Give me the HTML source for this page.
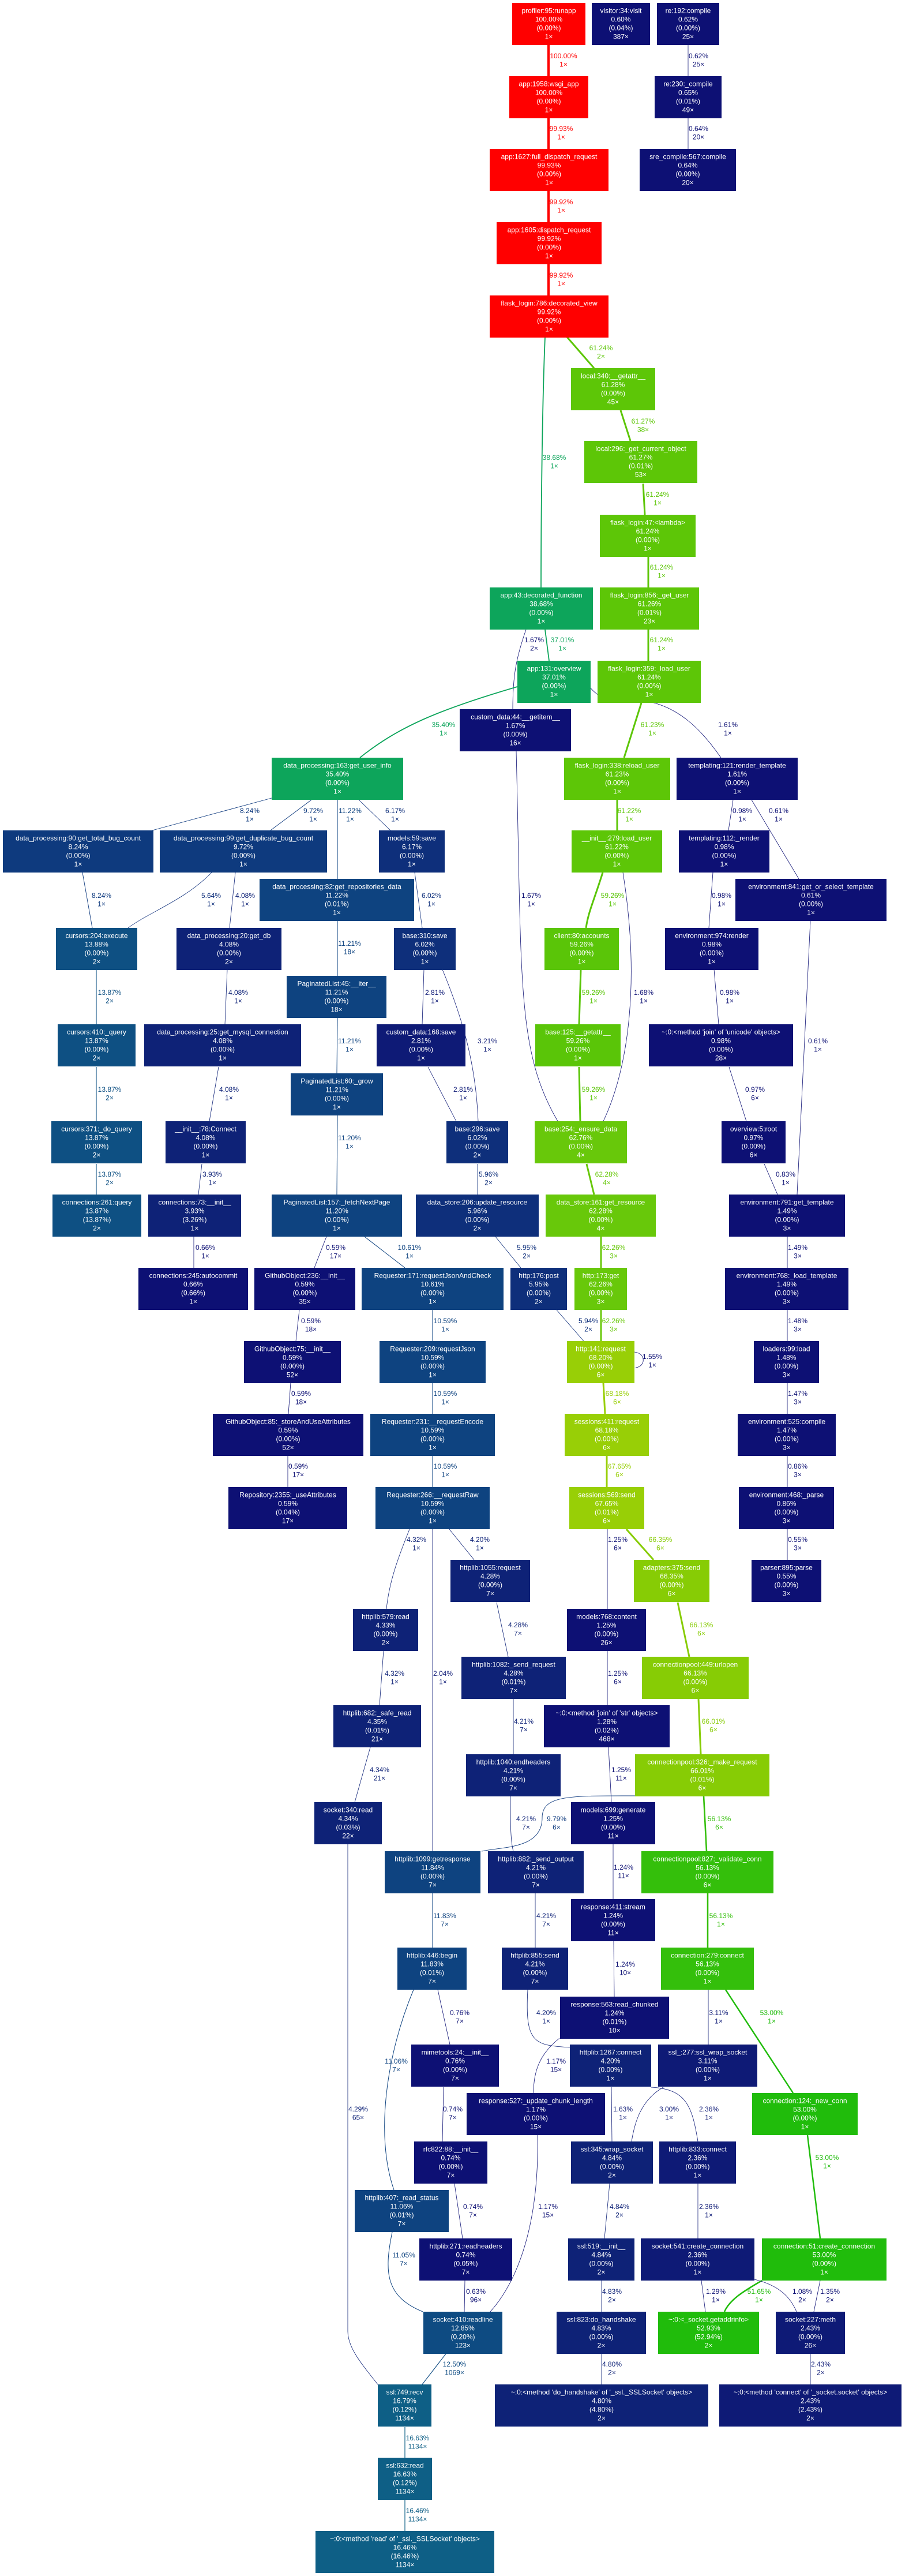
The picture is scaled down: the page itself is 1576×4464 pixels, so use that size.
<!DOCTYPE html>
<html><head><meta charset="utf-8">
<style>
html,body{margin:0;padding:0;background:#fff}
svg{display:block}
text{font-family:"Liberation Sans",Arial,sans-serif;font-size:12px}
.n text{fill:#fff;text-anchor:middle}
.l{text-anchor:middle}
path{fill:none}
</style></head><body>
<svg width="1576" height="4464" viewBox="0 0 1576 4464" xmlns="http://www.w3.org/2000/svg">
<defs>
<marker id="R" markerUnits="userSpaceOnUse" markerWidth="12" markerHeight="10" refX="12" refY="5" orient="auto"><path d="M0,0L12,5L0,10z" fill="#ff0000"/></marker>
<marker id="G61" markerUnits="userSpaceOnUse" markerWidth="11" markerHeight="9" refX="11" refY="4.5" orient="auto"><path d="M0,0L11,4.5L0,9z" fill="#5dc607"/></marker>
<marker id="G59" markerUnits="userSpaceOnUse" markerWidth="11" markerHeight="9" refX="11" refY="4.5" orient="auto"><path d="M0,0L11,4.5L0,9z" fill="#5ac508"/></marker>
<marker id="G62" markerUnits="userSpaceOnUse" markerWidth="11" markerHeight="9" refX="11" refY="4.5" orient="auto"><path d="M0,0L11,4.5L0,9z" fill="#68c80a"/></marker>
<marker id="Y66" markerUnits="userSpaceOnUse" markerWidth="11" markerHeight="9" refX="11" refY="4.5" orient="auto"><path d="M0,0L11,4.5L0,9z" fill="#87cc05"/></marker>
<marker id="Y68" markerUnits="userSpaceOnUse" markerWidth="11" markerHeight="9" refX="11" refY="4.5" orient="auto"><path d="M0,0L11,4.5L0,9z" fill="#98cf06"/></marker>
<marker id="G56" markerUnits="userSpaceOnUse" markerWidth="11" markerHeight="9" refX="11" refY="4.5" orient="auto"><path d="M0,0L11,4.5L0,9z" fill="#34bf0b"/></marker>
<marker id="G53" markerUnits="userSpaceOnUse" markerWidth="11" markerHeight="9" refX="11" refY="4.5" orient="auto"><path d="M0,0L11,4.5L0,9z" fill="#20bc0b"/></marker>
<marker id="T" markerUnits="userSpaceOnUse" markerWidth="10" markerHeight="8" refX="10" refY="4" orient="auto"><path d="M0,0L10,4L0,8z" fill="#0da55b"/></marker>
<marker id="B16" markerUnits="userSpaceOnUse" markerWidth="8" markerHeight="6" refX="8" refY="3" orient="auto"><path d="M0,0L8,3L0,6z" fill="#0e5f86"/></marker>
<marker id="B13" markerUnits="userSpaceOnUse" markerWidth="8" markerHeight="6" refX="8" refY="3" orient="auto"><path d="M0,0L8,3L0,6z" fill="#0e5083"/></marker>
<marker id="B12" markerUnits="userSpaceOnUse" markerWidth="8" markerHeight="6" refX="8" refY="3" orient="auto"><path d="M0,0L8,3L0,6z" fill="#0e4b82"/></marker>
<marker id="B11" markerUnits="userSpaceOnUse" markerWidth="8" markerHeight="6" refX="8" refY="3" orient="auto"><path d="M0,0L8,3L0,6z" fill="#0e4380"/></marker>
<marker id="B9" markerUnits="userSpaceOnUse" markerWidth="8" markerHeight="6" refX="8" refY="3" orient="auto"><path d="M0,0L8,3L0,6z" fill="#0e3a7e"/></marker>
<marker id="B6" markerUnits="userSpaceOnUse" markerWidth="8" markerHeight="6" refX="8" refY="3" orient="auto"><path d="M0,0L8,3L0,6z" fill="#0e2f7b"/></marker>
<marker id="B4" markerUnits="userSpaceOnUse" markerWidth="8" markerHeight="6" refX="8" refY="3" orient="auto"><path d="M0,0L8,3L0,6z" fill="#0e2277"/></marker>
<marker id="B2" markerUnits="userSpaceOnUse" markerWidth="8" markerHeight="6" refX="8" refY="3" orient="auto"><path d="M0,0L8,3L0,6z" fill="#0e1a76"/></marker>
<marker id="B1" markerUnits="userSpaceOnUse" markerWidth="8" markerHeight="6" refX="8" refY="3" orient="auto"><path d="M0,0L8,3L0,6z" fill="#0d1074"/></marker>
</defs>

<!-- EDGES -->
<g>
<path d="M951,77L951,132" stroke="#ff0000" stroke-width="4" marker-end="url(#R)"/>
<path d="M1193,77L1193,132" stroke="#0d1074" stroke-width="0.8" marker-end="url(#B1)"/>
<path d="M951,205L951,258" stroke="#ff0000" stroke-width="4" marker-end="url(#R)"/>
<path d="M1193,205L1193,258" stroke="#0d1074" stroke-width="0.8" marker-end="url(#B1)"/>
<path d="M951,331L951,385" stroke="#ff0000" stroke-width="4" marker-end="url(#R)"/>
<path d="M951,458L951,512" stroke="#ff0000" stroke-width="4" marker-end="url(#R)"/>
<path d="M983,584L1030,638" stroke="#5dc607" stroke-width="3" marker-end="url(#G61)"/>
<path d="M945,584C940,700 938,900 938,1018" stroke="#0da55b" stroke-width="1.8" marker-end="url(#T)"/>
<path d="M1076,711L1093,764" stroke="#5dc607" stroke-width="3" marker-end="url(#G61)"/>
<path d="M1115,838L1118,892" stroke="#5dc607" stroke-width="3" marker-end="url(#G61)"/>
<path d="M1124,964L1124,1018" stroke="#5dc607" stroke-width="3" marker-end="url(#G61)"/>
<path d="M945,1091L952,1145" stroke="#0da55b" stroke-width="1.8" marker-end="url(#T)"/>
<path d="M912,1091C895,1140 889,1170 889,1229" stroke="#0d1074" stroke-width="0.8" marker-end="url(#B1)"/>
<path d="M1124,1091L1124,1145" stroke="#5dc607" stroke-width="3" marker-end="url(#G61)"/>
<path d="M897,1190C760,1230 690,1260 624,1313" stroke="#0da55b" stroke-width="1.8" marker-end="url(#T)"/>
<path d="M1022,1190C1050,1225 1080,1210 1120,1215C1180,1225 1220,1270 1250,1313" stroke="#0d1074" stroke-width="0.8" marker-end="url(#B1)"/>
<path d="M1112,1218L1082,1313" stroke="#5dc607" stroke-width="3" marker-end="url(#G61)"/>
<path d="M895,1302C905,1700 895,1820 967,1943" stroke="#0d1074" stroke-width="0.8" marker-end="url(#B1)"/>
<path d="M471,1383L264,1439" stroke="#0e3a7e" stroke-width="0.9" marker-end="url(#B9)"/>
<path d="M540,1386L469,1439" stroke="#0e3a7e" stroke-width="0.9" marker-end="url(#B9)"/>
<path d="M585,1386L585,1523" stroke="#0e4380" stroke-width="1" marker-end="url(#B11)"/>
<path d="M622,1386L677,1439" stroke="#0e2f7b" stroke-width="0.8" marker-end="url(#B6)"/>
<path d="M1070,1386L1070,1439" stroke="#5dc607" stroke-width="3" marker-end="url(#G61)"/>
<path d="M1271,1386L1263,1439" stroke="#0d1074" stroke-width="0.8" marker-end="url(#B1)"/>
<path d="M1303,1386L1385,1523" stroke="#0d1074" stroke-width="0.8" marker-end="url(#B1)"/>
<path d="M143,1512L160,1608" stroke="#0e3a7e" stroke-width="0.9" marker-end="url(#B9)"/>
<path d="M367,1512C320,1560 260,1580 222,1608" stroke="#0e2f7b" stroke-width="0.8" marker-end="url(#B6)"/>
<path d="M408,1512L398,1608" stroke="#0e2277" stroke-width="0.8" marker-end="url(#B4)"/>
<path d="M719,1512L732,1608" stroke="#0e2f7b" stroke-width="0.8" marker-end="url(#B6)"/>
<path d="M1045,1512C1030,1560 1020,1580 1016,1608" stroke="#5ac508" stroke-width="3" marker-end="url(#G59)"/>
<path d="M1080,1512C1110,1700 1090,1850 1046,1943" stroke="#0d1074" stroke-width="0.8" marker-end="url(#B1)"/>
<path d="M1236,1512L1229,1608" stroke="#0d1074" stroke-width="0.8" marker-end="url(#B1)"/>
<path d="M1405,1596L1382,2070" stroke="#0d1074" stroke-width="0.8" marker-end="url(#B1)"/>
<path d="M585,1596L585,1691" stroke="#0e4380" stroke-width="1" marker-end="url(#B11)"/>
<path d="M167,1680L167,1775" stroke="#0e5083" stroke-width="1.1" marker-end="url(#B13)"/>
<path d="M394,1680L390,1775" stroke="#0e2277" stroke-width="0.8" marker-end="url(#B4)"/>
<path d="M735,1680L732,1775" stroke="#0e1a76" stroke-width="0.8" marker-end="url(#B2)"/>
<path d="M767,1680C800,1760 825,1840 829,1943" stroke="#0e1a76" stroke-width="0.8" marker-end="url(#B2)"/>
<path d="M1007,1680L1004,1775" stroke="#5ac508" stroke-width="3" marker-end="url(#G59)"/>
<path d="M1238,1680L1246,1775" stroke="#0d1074" stroke-width="0.8" marker-end="url(#B1)"/>
<path d="M585,1764L584,1860" stroke="#0e4380" stroke-width="1" marker-end="url(#B11)"/>
<path d="M167,1849L167,1943" stroke="#0e5083" stroke-width="1.1" marker-end="url(#B13)"/>
<path d="M379,1849L363,1943" stroke="#0e2277" stroke-width="0.8" marker-end="url(#B4)"/>
<path d="M742,1849L791,1943" stroke="#0e1a76" stroke-width="0.8" marker-end="url(#B2)"/>
<path d="M1004,1849L1006,1943" stroke="#5ac508" stroke-width="3" marker-end="url(#G59)"/>
<path d="M1264,1849L1294,1943" stroke="#0d1074" stroke-width="0.8" marker-end="url(#B1)"/>
<path d="M585,1932L584,2070" stroke="#0e4380" stroke-width="1" marker-end="url(#B11)"/>
<path d="M167,2017L167,2070" stroke="#0e5083" stroke-width="1.1" marker-end="url(#B13)"/>
<path d="M350,2017L344,2070" stroke="#0e2277" stroke-width="0.8" marker-end="url(#B4)"/>
<path d="M828,2017L828,2070" stroke="#0e2f7b" stroke-width="0.8" marker-end="url(#B6)"/>
<path d="M1017,2017L1030,2070" stroke="#68c80a" stroke-width="3" marker-end="url(#G62)"/>
<path d="M1325,2017L1348,2070" stroke="#0d1074" stroke-width="0.8" marker-end="url(#B1)"/>
<path d="M336,2143L336,2197" stroke="#0d1074" stroke-width="0.8" marker-end="url(#B1)"/>
<path d="M566,2143L545,2197" stroke="#0d1074" stroke-width="0.8" marker-end="url(#B1)"/>
<path d="M632,2143L702,2197" stroke="#0e4380" stroke-width="1" marker-end="url(#B11)"/>
<path d="M859,2143L903,2197" stroke="#0e2f7b" stroke-width="0.8" marker-end="url(#B6)"/>
<path d="M1042,2143L1042,2197" stroke="#68c80a" stroke-width="3" marker-end="url(#G62)"/>
<path d="M1365,2143L1365,2197" stroke="#0d1074" stroke-width="0.8" marker-end="url(#B1)"/>
<path d="M519,2270L513,2324" stroke="#0d1074" stroke-width="0.8" marker-end="url(#B1)"/>
<path d="M750,2270L750,2324" stroke="#0e4380" stroke-width="1" marker-end="url(#B11)"/>
<path d="M965,2270L1012,2324" stroke="#0e2f7b" stroke-width="0.8" marker-end="url(#B6)"/>
<path d="M1042,2270L1042,2324" stroke="#68c80a" stroke-width="3" marker-end="url(#G62)"/>
<path d="M1365,2270L1365,2324" stroke="#0d1074" stroke-width="0.8" marker-end="url(#B1)"/>
<path d="M1100,2343C1120,2345 1120,2368 1102,2370" stroke="#0d1074" stroke-width="0.8" marker-end="url(#B1)"/>
<path d="M504,2396L500,2450" stroke="#0d1074" stroke-width="0.8" marker-end="url(#B1)"/>
<path d="M750,2396L750,2450" stroke="#0e4380" stroke-width="1" marker-end="url(#B11)"/>
<path d="M1046,2396L1049,2450" stroke="#98cf06" stroke-width="3" marker-end="url(#Y68)"/>
<path d="M1365,2396L1365,2450" stroke="#0d1074" stroke-width="0.8" marker-end="url(#B1)"/>
<path d="M499,2523L499,2577" stroke="#0d1074" stroke-width="0.8" marker-end="url(#B1)"/>
<path d="M750,2523L750,2577" stroke="#0e4380" stroke-width="1" marker-end="url(#B11)"/>
<path d="M1052,2523L1052,2577" stroke="#98cf06" stroke-width="3" marker-end="url(#Y68)"/>
<path d="M1365,2523L1365,2577" stroke="#0d1074" stroke-width="0.8" marker-end="url(#B1)"/>
<path d="M710,2650C690,2700 675,2740 670,2788" stroke="#0e2277" stroke-width="0.8" marker-end="url(#B4)"/>
<path d="M750,2650L750,3208" stroke="#0e1a76" stroke-width="0.8" marker-end="url(#B2)"/>
<path d="M779,2650L822,2703" stroke="#0e2277" stroke-width="0.8" marker-end="url(#B4)"/>
<path d="M1053,2650L1053,2788" stroke="#0d1074" stroke-width="0.8" marker-end="url(#B1)"/>
<path d="M1086,2650L1133,2703" stroke="#87cc05" stroke-width="3" marker-end="url(#Y66)"/>
<path d="M1365,2650L1365,2703" stroke="#0d1074" stroke-width="0.8" marker-end="url(#B1)"/>
<path d="M861,2777L881,2871" stroke="#0e2277" stroke-width="0.8" marker-end="url(#B4)"/>
<path d="M1175,2777L1195,2871" stroke="#87cc05" stroke-width="3" marker-end="url(#Y66)"/>
<path d="M665,2860L658,2955" stroke="#0e2277" stroke-width="0.8" marker-end="url(#B4)"/>
<path d="M1053,2860L1053,2955" stroke="#0d1074" stroke-width="0.8" marker-end="url(#B1)"/>
<path d="M890,2944L890,3040" stroke="#0e2277" stroke-width="0.8" marker-end="url(#B4)"/>
<path d="M1211,2944L1215,3040" stroke="#87cc05" stroke-width="3" marker-end="url(#Y66)"/>
<path d="M642,3028L615,3123" stroke="#0e2277" stroke-width="0.8" marker-end="url(#B4)"/>
<path d="M1055,3028L1060,3123" stroke="#0d1074" stroke-width="0.8" marker-end="url(#B1)"/>
<path d="M1101,3112C990,3112 940,3110 940,3150C940,3205 870,3200 835,3208" stroke="#0e3a7e" stroke-width="0.9" marker-end="url(#B9)"/>
<path d="M885,3112C885,3160 885,3190 890,3208" stroke="#0e2277" stroke-width="0.8" marker-end="url(#B4)"/>
<path d="M1220,3112L1225,3208" stroke="#34bf0b" stroke-width="2.6" marker-end="url(#G56)"/>
<path d="M1063,3196L1063,3291" stroke="#0d1074" stroke-width="0.8" marker-end="url(#B1)"/>
<path d="M750,3280L750,3375" stroke="#0e4380" stroke-width="1" marker-end="url(#B11)"/>
<path d="M928,3280L928,3375" stroke="#0e2277" stroke-width="0.8" marker-end="url(#B4)"/>
<path d="M1227,3280L1227,3375" stroke="#34bf0b" stroke-width="2.6" marker-end="url(#G56)"/>
<path d="M1064,3364L1065,3460" stroke="#0d1074" stroke-width="0.8" marker-end="url(#B1)"/>
<path d="M759,3448L780,3543" stroke="#0d1074" stroke-width="0.8" marker-end="url(#B1)"/>
<path d="M717,3448C670,3560 650,3700 683,3795" stroke="#0e4380" stroke-width="1" marker-end="url(#B11)"/>
<path d="M915,3448C910,3540 925,3545 990,3548" stroke="#0e2277" stroke-width="0.8" marker-end="url(#B4)"/>
<path d="M1228,3448L1228,3543" stroke="#0e1a76" stroke-width="0.8" marker-end="url(#B2)"/>
<path d="M1258,3448L1375,3627" stroke="#20bc0b" stroke-width="2.5" marker-end="url(#G53)"/>
<path d="M970,3532C935,3560 925,3590 925,3627" stroke="#0d1074" stroke-width="0.8" marker-end="url(#B1)"/>
<path d="M603,3196L603,4040C603,4070 630,4100 655,4132" stroke="#0e2277" stroke-width="0.8" marker-end="url(#B4)"/>
<path d="M769,3617L767,3711" stroke="#0d1074" stroke-width="0.8" marker-end="url(#B1)"/>
<path d="M1060,3617L1061,3711" stroke="#0e1a76" stroke-width="0.8" marker-end="url(#B2)"/>
<path d="M1129,3617C1190,3620 1200,3650 1210,3711" stroke="#0e1a76" stroke-width="0.8" marker-end="url(#B2)"/>
<path d="M1150,3617C1110,3640 1100,3680 1095,3711" stroke="#0e1a76" stroke-width="0.8" marker-end="url(#B2)"/>
<path d="M1400,3700L1422,3879" stroke="#20bc0b" stroke-width="2.5" marker-end="url(#G53)"/>
<path d="M680,3868C665,3940 670,3980 733,4006" stroke="#0e4380" stroke-width="1" marker-end="url(#B11)"/>
<path d="M788,3784L802,3879" stroke="#0d1074" stroke-width="0.8" marker-end="url(#B1)"/>
<path d="M932,3700C935,3850 900,3950 850,4006" stroke="#0d1074" stroke-width="0.8" marker-end="url(#B1)"/>
<path d="M1057,3784L1048,3879" stroke="#0e2277" stroke-width="0.8" marker-end="url(#B4)"/>
<path d="M1210,3784L1210,3879" stroke="#0e1a76" stroke-width="0.8" marker-end="url(#B2)"/>
<path d="M806,3952L805,4006" stroke="#0d1074" stroke-width="0.8" marker-end="url(#B1)"/>
<path d="M1043,3952L1043,4006" stroke="#0e2277" stroke-width="0.8" marker-end="url(#B4)"/>
<path d="M1216,3952L1223,4006" stroke="#0d1074" stroke-width="0.8" marker-end="url(#B1)"/>
<path d="M1321,3952C1290,3970 1265,3985 1256,4006" stroke="#20bc0b" stroke-width="2.5" marker-end="url(#G53)"/>
<path d="M1308,3950C1350,3960 1370,3980 1381,4006" stroke="#0d1074" stroke-width="0.8" marker-end="url(#B1)"/>
<path d="M1422,3952L1411,4006" stroke="#0d1074" stroke-width="0.8" marker-end="url(#B1)"/>
<path d="M773,4079L732,4132" stroke="#0e4b82" stroke-width="1.1" marker-end="url(#B12)"/>
<path d="M1043,4079L1043,4132" stroke="#0e2277" stroke-width="0.8" marker-end="url(#B4)"/>
<path d="M1405,4079L1405,4132" stroke="#0e1a76" stroke-width="0.8" marker-end="url(#B2)"/>
<path d="M702,4206L702,4259" stroke="#0e5f86" stroke-width="1.2" marker-end="url(#B16)"/>
<path d="M702,4332L702,4386" stroke="#0e5f86" stroke-width="1.2" marker-end="url(#B16)"/>
</g>

<!-- EDGE LABELS -->
<g class="l">
<text class="l" x="977" y="101" fill="#ff0000">100.00%<tspan x="977" dy="14.5">1×</tspan></text>
<text class="l" x="1211" y="101" fill="#0d1074">0.62%<tspan x="1211" dy="14.5">25×</tspan></text>
<text class="l" x="973" y="227" fill="#ff0000">99.93%<tspan x="973" dy="14.5">1×</tspan></text>
<text class="l" x="1211" y="227" fill="#0d1074">0.64%<tspan x="1211" dy="14.5">20×</tspan></text>
<text class="l" x="973" y="354" fill="#ff0000">99.92%<tspan x="973" dy="14.5">1×</tspan></text>
<text class="l" x="973" y="481" fill="#ff0000">99.92%<tspan x="973" dy="14.5">1×</tspan></text>
<text class="l" x="1042" y="607" fill="#5dc607">61.24%<tspan x="1042" dy="14.5">2×</tspan></text>
<text class="l" x="961" y="797" fill="#0da55b">38.68%<tspan x="961" dy="14.5">1×</tspan></text>
<text class="l" x="1115" y="734" fill="#5dc607">61.27%<tspan x="1115" dy="14.5">38×</tspan></text>
<text class="l" x="1140" y="861" fill="#5dc607">61.24%<tspan x="1140" dy="14.5">1×</tspan></text>
<text class="l" x="1147" y="987" fill="#5dc607">61.24%<tspan x="1147" dy="14.5">1×</tspan></text>
<text class="l" x="975" y="1113" fill="#0da55b">37.01%<tspan x="975" dy="14.5">1×</tspan></text>
<text class="l" x="926" y="1113" fill="#0d1074">1.67%<tspan x="926" dy="14.5">2×</tspan></text>
<text class="l" x="1147" y="1113" fill="#5dc607">61.24%<tspan x="1147" dy="14.5">1×</tspan></text>
<text class="l" x="769" y="1260" fill="#0da55b">35.40%<tspan x="769" dy="14.5">1×</tspan></text>
<text class="l" x="1262" y="1260" fill="#0d1074">1.61%<tspan x="1262" dy="14.5">1×</tspan></text>
<text class="l" x="1131" y="1260" fill="#5dc607">61.23%<tspan x="1131" dy="14.5">1×</tspan></text>
<text class="l" x="921" y="1556" fill="#0d1074">1.67%<tspan x="921" dy="14.5">1×</tspan></text>
<text class="l" x="433" y="1409" fill="#0e3a7e">8.24%<tspan x="433" dy="14.5">1×</tspan></text>
<text class="l" x="543" y="1409" fill="#0e3a7e">9.72%<tspan x="543" dy="14.5">1×</tspan></text>
<text class="l" x="607" y="1409" fill="#0e4380">11.22%<tspan x="607" dy="14.5">1×</tspan></text>
<text class="l" x="685" y="1409" fill="#0e2f7b">6.17%<tspan x="685" dy="14.5">1×</tspan></text>
<text class="l" x="1091" y="1409" fill="#5dc607">61.22%<tspan x="1091" dy="14.5">1×</tspan></text>
<text class="l" x="1287" y="1409" fill="#0d1074">0.98%<tspan x="1287" dy="14.5">1×</tspan></text>
<text class="l" x="1350" y="1409" fill="#0d1074">0.61%<tspan x="1350" dy="14.5">1×</tspan></text>
<text class="l" x="176" y="1556" fill="#0e3a7e">8.24%<tspan x="176" dy="14.5">1×</tspan></text>
<text class="l" x="366" y="1556" fill="#0e2f7b">5.64%<tspan x="366" dy="14.5">1×</tspan></text>
<text class="l" x="425" y="1556" fill="#0e2277">4.08%<tspan x="425" dy="14.5">1×</tspan></text>
<text class="l" x="748" y="1556" fill="#0e2f7b">6.02%<tspan x="748" dy="14.5">1×</tspan></text>
<text class="l" x="1062" y="1556" fill="#5ac508">59.26%<tspan x="1062" dy="14.5">1×</tspan></text>
<text class="l" x="1116" y="1724" fill="#0d1074">1.68%<tspan x="1116" dy="14.5">1×</tspan></text>
<text class="l" x="1251" y="1556" fill="#0d1074">0.98%<tspan x="1251" dy="14.5">1×</tspan></text>
<text class="l" x="1418" y="1808" fill="#0d1074">0.61%<tspan x="1418" dy="14.5">1×</tspan></text>
<text class="l" x="606" y="1639" fill="#0e4380">11.21%<tspan x="606" dy="14.5">18×</tspan></text>
<text class="l" x="190" y="1724" fill="#0e5083">13.87%<tspan x="190" dy="14.5">2×</tspan></text>
<text class="l" x="413" y="1724" fill="#0e2277">4.08%<tspan x="413" dy="14.5">1×</tspan></text>
<text class="l" x="754" y="1724" fill="#0e1a76">2.81%<tspan x="754" dy="14.5">1×</tspan></text>
<text class="l" x="845" y="1808" fill="#0e1a76">3.21%<tspan x="845" dy="14.5">1×</tspan></text>
<text class="l" x="1029" y="1724" fill="#5ac508">59.26%<tspan x="1029" dy="14.5">1×</tspan></text>
<text class="l" x="1265" y="1724" fill="#0d1074">0.98%<tspan x="1265" dy="14.5">1×</tspan></text>
<text class="l" x="606" y="1808" fill="#0e4380">11.21%<tspan x="606" dy="14.5">1×</tspan></text>
<text class="l" x="190" y="1892" fill="#0e5083">13.87%<tspan x="190" dy="14.5">2×</tspan></text>
<text class="l" x="397" y="1892" fill="#0e2277">4.08%<tspan x="397" dy="14.5">1×</tspan></text>
<text class="l" x="803" y="1892" fill="#0e1a76">2.81%<tspan x="803" dy="14.5">1×</tspan></text>
<text class="l" x="1029" y="1892" fill="#5ac508">59.26%<tspan x="1029" dy="14.5">1×</tspan></text>
<text class="l" x="1309" y="1892" fill="#0d1074">0.97%<tspan x="1309" dy="14.5">6×</tspan></text>
<text class="l" x="606" y="1976" fill="#0e4380">11.20%<tspan x="606" dy="14.5">1×</tspan></text>
<text class="l" x="190" y="2039" fill="#0e5083">13.87%<tspan x="190" dy="14.5">2×</tspan></text>
<text class="l" x="368" y="2039" fill="#0e2277">3.93%<tspan x="368" dy="14.5">1×</tspan></text>
<text class="l" x="847" y="2039" fill="#0e2f7b">5.96%<tspan x="847" dy="14.5">2×</tspan></text>
<text class="l" x="1052" y="2039" fill="#68c80a">62.28%<tspan x="1052" dy="14.5">4×</tspan></text>
<text class="l" x="1362" y="2039" fill="#0d1074">0.83%<tspan x="1362" dy="14.5">1×</tspan></text>
<text class="l" x="356" y="2166" fill="#0d1074">0.66%<tspan x="356" dy="14.5">1×</tspan></text>
<text class="l" x="582" y="2166" fill="#0d1074">0.59%<tspan x="582" dy="14.5">17×</tspan></text>
<text class="l" x="710" y="2166" fill="#0e4380">10.61%<tspan x="710" dy="14.5">1×</tspan></text>
<text class="l" x="913" y="2166" fill="#0e2f7b">5.95%<tspan x="913" dy="14.5">2×</tspan></text>
<text class="l" x="1064" y="2166" fill="#68c80a">62.26%<tspan x="1064" dy="14.5">3×</tspan></text>
<text class="l" x="1383" y="2166" fill="#0d1074">1.49%<tspan x="1383" dy="14.5">3×</tspan></text>
<text class="l" x="539" y="2293" fill="#0d1074">0.59%<tspan x="539" dy="14.5">18×</tspan></text>
<text class="l" x="772" y="2293" fill="#0e4380">10.59%<tspan x="772" dy="14.5">1×</tspan></text>
<text class="l" x="1020" y="2293" fill="#0e2f7b">5.94%<tspan x="1020" dy="14.5">2×</tspan></text>
<text class="l" x="1064" y="2293" fill="#68c80a">62.26%<tspan x="1064" dy="14.5">3×</tspan></text>
<text class="l" x="1383" y="2293" fill="#0d1074">1.48%<tspan x="1383" dy="14.5">3×</tspan></text>
<text class="l" x="1131" y="2355" fill="#0d1074">1.55%<tspan x="1131" dy="14.5">1×</tspan></text>
<text class="l" x="522" y="2419" fill="#0d1074">0.59%<tspan x="522" dy="14.5">18×</tspan></text>
<text class="l" x="772" y="2419" fill="#0e4380">10.59%<tspan x="772" dy="14.5">1×</tspan></text>
<text class="l" x="1070" y="2419" fill="#98cf06">68.18%<tspan x="1070" dy="14.5">6×</tspan></text>
<text class="l" x="1383" y="2419" fill="#0d1074">1.47%<tspan x="1383" dy="14.5">3×</tspan></text>
<text class="l" x="517" y="2545" fill="#0d1074">0.59%<tspan x="517" dy="14.5">17×</tspan></text>
<text class="l" x="772" y="2545" fill="#0e4380">10.59%<tspan x="772" dy="14.5">1×</tspan></text>
<text class="l" x="1074" y="2545" fill="#98cf06">67.65%<tspan x="1074" dy="14.5">6×</tspan></text>
<text class="l" x="1383" y="2545" fill="#0d1074">0.86%<tspan x="1383" dy="14.5">3×</tspan></text>
<text class="l" x="722" y="2672" fill="#0e2277">4.32%<tspan x="722" dy="14.5">1×</tspan></text>
<text class="l" x="768" y="2904" fill="#0e1a76">2.04%<tspan x="768" dy="14.5">1×</tspan></text>
<text class="l" x="832" y="2672" fill="#0e2277">4.20%<tspan x="832" dy="14.5">1×</tspan></text>
<text class="l" x="1071" y="2672" fill="#0d1074">1.25%<tspan x="1071" dy="14.5">6×</tspan></text>
<text class="l" x="1145" y="2672" fill="#87cc05">66.35%<tspan x="1145" dy="14.5">6×</tspan></text>
<text class="l" x="1383" y="2672" fill="#0d1074">0.55%<tspan x="1383" dy="14.5">3×</tspan></text>
<text class="l" x="898" y="2820" fill="#0e2277">4.28%<tspan x="898" dy="14.5">7×</tspan></text>
<text class="l" x="1216" y="2820" fill="#87cc05">66.13%<tspan x="1216" dy="14.5">6×</tspan></text>
<text class="l" x="684" y="2904" fill="#0e2277">4.32%<tspan x="684" dy="14.5">1×</tspan></text>
<text class="l" x="1071" y="2904" fill="#0d1074">1.25%<tspan x="1071" dy="14.5">6×</tspan></text>
<text class="l" x="908" y="2987" fill="#0e2277">4.21%<tspan x="908" dy="14.5">7×</tspan></text>
<text class="l" x="1237" y="2987" fill="#87cc05">66.01%<tspan x="1237" dy="14.5">6×</tspan></text>
<text class="l" x="658" y="3071" fill="#0e2277">4.34%<tspan x="658" dy="14.5">21×</tspan></text>
<text class="l" x="1077" y="3071" fill="#0d1074">1.25%<tspan x="1077" dy="14.5">11×</tspan></text>
<text class="l" x="965" y="3156" fill="#0e3a7e">9.79%<tspan x="965" dy="14.5">6×</tspan></text>
<text class="l" x="912" y="3156" fill="#0e2277">4.21%<tspan x="912" dy="14.5">7×</tspan></text>
<text class="l" x="1247" y="3156" fill="#34bf0b">56.13%<tspan x="1247" dy="14.5">6×</tspan></text>
<text class="l" x="1081" y="3240" fill="#0d1074">1.24%<tspan x="1081" dy="14.5">11×</tspan></text>
<text class="l" x="771" y="3324" fill="#0e4380">11.83%<tspan x="771" dy="14.5">7×</tspan></text>
<text class="l" x="947" y="3324" fill="#0e2277">4.21%<tspan x="947" dy="14.5">7×</tspan></text>
<text class="l" x="1250" y="3324" fill="#34bf0b">56.13%<tspan x="1250" dy="14.5">1×</tspan></text>
<text class="l" x="1084" y="3408" fill="#0d1074">1.24%<tspan x="1084" dy="14.5">10×</tspan></text>
<text class="l" x="797" y="3492" fill="#0d1074">0.76%<tspan x="797" dy="14.5">7×</tspan></text>
<text class="l" x="687" y="3576" fill="#0e4380">11.06%<tspan x="687" dy="14.5">7×</tspan></text>
<text class="l" x="947" y="3492" fill="#0e2277">4.20%<tspan x="947" dy="14.5">1×</tspan></text>
<text class="l" x="1246" y="3492" fill="#0e1a76">3.11%<tspan x="1246" dy="14.5">1×</tspan></text>
<text class="l" x="1338" y="3492" fill="#20bc0b">53.00%<tspan x="1338" dy="14.5">1×</tspan></text>
<text class="l" x="964" y="3576" fill="#0d1074">1.17%<tspan x="964" dy="14.5">15×</tspan></text>
<text class="l" x="621" y="3659" fill="#0e2277">4.29%<tspan x="621" dy="14.5">65×</tspan></text>
<text class="l" x="785" y="3659" fill="#0d1074">0.74%<tspan x="785" dy="14.5">7×</tspan></text>
<text class="l" x="1080" y="3659" fill="#0e1a76">1.63%<tspan x="1080" dy="14.5">1×</tspan></text>
<text class="l" x="1229" y="3659" fill="#0e1a76">2.36%<tspan x="1229" dy="14.5">1×</tspan></text>
<text class="l" x="1160" y="3659" fill="#0e1a76">3.00%<tspan x="1160" dy="14.5">1×</tspan></text>
<text class="l" x="1434" y="3743" fill="#20bc0b">53.00%<tspan x="1434" dy="14.5">1×</tspan></text>
<text class="l" x="700" y="3912" fill="#0e4380">11.05%<tspan x="700" dy="14.5">7×</tspan></text>
<text class="l" x="820" y="3828" fill="#0d1074">0.74%<tspan x="820" dy="14.5">7×</tspan></text>
<text class="l" x="950" y="3828" fill="#0d1074">1.17%<tspan x="950" dy="14.5">15×</tspan></text>
<text class="l" x="1074" y="3828" fill="#0e2277">4.84%<tspan x="1074" dy="14.5">2×</tspan></text>
<text class="l" x="1229" y="3828" fill="#0e1a76">2.36%<tspan x="1229" dy="14.5">1×</tspan></text>
<text class="l" x="825" y="3975" fill="#0d1074">0.63%<tspan x="825" dy="14.5">96×</tspan></text>
<text class="l" x="1061" y="3975" fill="#0e2277">4.83%<tspan x="1061" dy="14.5">2×</tspan></text>
<text class="l" x="1241" y="3975" fill="#0d1074">1.29%<tspan x="1241" dy="14.5">1×</tspan></text>
<text class="l" x="1316" y="3975" fill="#20bc0b">51.65%<tspan x="1316" dy="14.5">1×</tspan></text>
<text class="l" x="1391" y="3975" fill="#0d1074">1.08%<tspan x="1391" dy="14.5">2×</tspan></text>
<text class="l" x="1439" y="3975" fill="#0d1074">1.35%<tspan x="1439" dy="14.5">2×</tspan></text>
<text class="l" x="788" y="4101" fill="#0e4b82">12.50%<tspan x="788" dy="14.5">1069×</tspan></text>
<text class="l" x="1061" y="4101" fill="#0e2277">4.80%<tspan x="1061" dy="14.5">2×</tspan></text>
<text class="l" x="1423" y="4101" fill="#0e1a76">2.43%<tspan x="1423" dy="14.5">2×</tspan></text>
<text class="l" x="724" y="4229" fill="#0e5f86">16.63%<tspan x="724" dy="14.5">1134×</tspan></text>
<text class="l" x="724" y="4355" fill="#0e5f86">16.46%<tspan x="724" dy="14.5">1134×</tspan></text>
</g>

<!-- NODES -->
<g class="n">
<rect x="888" y="5" width="127" height="73" fill="#ff0000"/><text x="951.5" y="22.5">profiler:95:runapp<tspan x="951.5" dy="15">100.00%</tspan><tspan x="951.5" dy="15">(0.00%)</tspan><tspan x="951.5" dy="15">1×</tspan></text>
<rect x="1026" y="5" width="101" height="73" fill="#0d1074"/><text x="1076.5" y="22.5">visitor:34:visit<tspan x="1076.5" dy="15">0.60%</tspan><tspan x="1076.5" dy="15">(0.04%)</tspan><tspan x="1076.5" dy="15">387×</tspan></text>
<rect x="1139" y="5" width="108" height="73" fill="#0d1074"/><text x="1193" y="22.5">re:192:compile<tspan x="1193" dy="15">0.62%</tspan><tspan x="1193" dy="15">(0.00%)</tspan><tspan x="1193" dy="15">25×</tspan></text>
<rect x="883" y="132" width="137" height="73" fill="#ff0000"/><text x="951.5" y="149.5">app:1958:wsgi_app<tspan x="951.5" dy="15">100.00%</tspan><tspan x="951.5" dy="15">(0.00%)</tspan><tspan x="951.5" dy="15">1×</tspan></text>
<rect x="1135" y="132" width="116" height="73" fill="#0d1074"/><text x="1193" y="149.5">re:230:_compile<tspan x="1193" dy="15">0.65%</tspan><tspan x="1193" dy="15">(0.01%)</tspan><tspan x="1193" dy="15">49×</tspan></text>
<rect x="849" y="258" width="206" height="73" fill="#ff0000"/><text x="952" y="275.5">app:1627:full_dispatch_request<tspan x="952" dy="15">99.93%</tspan><tspan x="952" dy="15">(0.00%)</tspan><tspan x="952" dy="15">1×</tspan></text>
<rect x="1109" y="258" width="167" height="73" fill="#0d1074"/><text x="1192.5" y="275.5">sre_compile:567:compile<tspan x="1192.5" dy="15">0.64%</tspan><tspan x="1192.5" dy="15">(0.00%)</tspan><tspan x="1192.5" dy="15">20×</tspan></text>
<rect x="861" y="385" width="182" height="73" fill="#ff0000"/><text x="952" y="402.5">app:1605:dispatch_request<tspan x="952" dy="15">99.92%</tspan><tspan x="952" dy="15">(0.00%)</tspan><tspan x="952" dy="15">1×</tspan></text>
<rect x="849" y="512" width="206" height="73" fill="#ff0000"/><text x="952" y="529.5">flask_login:786:decorated_view<tspan x="952" dy="15">99.92%</tspan><tspan x="952" dy="15">(0.00%)</tspan><tspan x="952" dy="15">1×</tspan></text>
<rect x="990" y="638" width="146" height="73" fill="#5dc607"/><text x="1063" y="655.5">local:340:__getattr__<tspan x="1063" dy="15">61.28%</tspan><tspan x="1063" dy="15">(0.00%)</tspan><tspan x="1063" dy="15">45×</tspan></text>
<rect x="1013" y="764" width="196" height="73" fill="#5dc607"/><text x="1111" y="781.5">local:296:_get_current_object<tspan x="1111" dy="15">61.27%</tspan><tspan x="1111" dy="15">(0.01%)</tspan><tspan x="1111" dy="15">53×</tspan></text>
<rect x="1040" y="892" width="166" height="73" fill="#5dc607"/><text x="1123" y="909.5">flask_login:47:&lt;lambda&gt;<tspan x="1123" dy="15">61.24%</tspan><tspan x="1123" dy="15">(0.00%)</tspan><tspan x="1123" dy="15">1×</tspan></text>
<rect x="849" y="1018" width="179" height="73" fill="#0da55b"/><text x="938.5" y="1035.5">app:43:decorated_function<tspan x="938.5" dy="15">38.68%</tspan><tspan x="938.5" dy="15">(0.00%)</tspan><tspan x="938.5" dy="15">1×</tspan></text>
<rect x="1040" y="1018" width="172" height="73" fill="#5dc607"/><text x="1126" y="1035.5">flask_login:856:_get_user<tspan x="1126" dy="15">61.26%</tspan><tspan x="1126" dy="15">(0.01%)</tspan><tspan x="1126" dy="15">23×</tspan></text>
<rect x="897" y="1145" width="127" height="73" fill="#0da55b"/><text x="960.5" y="1162.5">app:131:overview<tspan x="960.5" dy="15">37.01%</tspan><tspan x="960.5" dy="15">(0.00%)</tspan><tspan x="960.5" dy="15">1×</tspan></text>
<rect x="1036" y="1145" width="179" height="73" fill="#5dc607"/><text x="1125.5" y="1162.5">flask_login:359:_load_user<tspan x="1125.5" dy="15">61.24%</tspan><tspan x="1125.5" dy="15">(0.00%)</tspan><tspan x="1125.5" dy="15">1×</tspan></text>
<rect x="797" y="1229" width="193" height="73" fill="#0d1074"/><text x="893.5" y="1246.5">custom_data:44:__getitem__<tspan x="893.5" dy="15">1.67%</tspan><tspan x="893.5" dy="15">(0.00%)</tspan><tspan x="893.5" dy="15">16×</tspan></text>
<rect x="471" y="1313" width="228" height="73" fill="#0da55b"/><text x="585" y="1330.5">data_processing:163:get_user_info<tspan x="585" dy="15">35.40%</tspan><tspan x="585" dy="15">(0.00%)</tspan><tspan x="585" dy="15">1×</tspan></text>
<rect x="978" y="1313" width="184" height="73" fill="#5dc607"/><text x="1070" y="1330.5">flask_login:338:reload_user<tspan x="1070" dy="15">61.23%</tspan><tspan x="1070" dy="15">(0.00%)</tspan><tspan x="1070" dy="15">1×</tspan></text>
<rect x="1173" y="1313" width="210" height="73" fill="#0d1074"/><text x="1278" y="1330.5">templating:121:render_template<tspan x="1278" dy="15">1.61%</tspan><tspan x="1278" dy="15">(0.00%)</tspan><tspan x="1278" dy="15">1×</tspan></text>
<rect x="5" y="1439" width="261" height="73" fill="#0e3a7e"/><text x="135.5" y="1456.5">data_processing:90:get_total_bug_count<tspan x="135.5" dy="15">8.24%</tspan><tspan x="135.5" dy="15">(0.00%)</tspan><tspan x="135.5" dy="15">1×</tspan></text>
<rect x="277" y="1439" width="290" height="73" fill="#0e3a7e"/><text x="422" y="1456.5">data_processing:99:get_duplicate_bug_count<tspan x="422" dy="15">9.72%</tspan><tspan x="422" dy="15">(0.00%)</tspan><tspan x="422" dy="15">1×</tspan></text>
<rect x="657" y="1439" width="114" height="73" fill="#0e2f7b"/><text x="714" y="1456.5">models:59:save<tspan x="714" dy="15">6.17%</tspan><tspan x="714" dy="15">(0.00%)</tspan><tspan x="714" dy="15">1×</tspan></text>
<rect x="991" y="1439" width="157" height="73" fill="#5dc607"/><text x="1069.5" y="1456.5">__init__:279:load_user<tspan x="1069.5" dy="15">61.22%</tspan><tspan x="1069.5" dy="15">(0.00%)</tspan><tspan x="1069.5" dy="15">1×</tspan></text>
<rect x="1177" y="1439" width="157" height="73" fill="#0d1074"/><text x="1255.5" y="1456.5">templating:112:_render<tspan x="1255.5" dy="15">0.98%</tspan><tspan x="1255.5" dy="15">(0.00%)</tspan><tspan x="1255.5" dy="15">1×</tspan></text>
<rect x="450" y="1523" width="268" height="73" fill="#0e4380"/><text x="584" y="1540.5">data_processing:82:get_repositories_data<tspan x="584" dy="15">11.22%</tspan><tspan x="584" dy="15">(0.01%)</tspan><tspan x="584" dy="15">1×</tspan></text>
<rect x="1275" y="1523" width="262" height="73" fill="#0d1074"/><text x="1406" y="1540.5">environment:841:get_or_select_template<tspan x="1406" dy="15">0.61%</tspan><tspan x="1406" dy="15">(0.00%)</tspan><tspan x="1406" dy="15">1×</tspan></text>
<rect x="97" y="1608" width="141" height="73" fill="#0e5083"/><text x="167.5" y="1625.5">cursors:204:execute<tspan x="167.5" dy="15">13.88%</tspan><tspan x="167.5" dy="15">(0.00%)</tspan><tspan x="167.5" dy="15">2×</tspan></text>
<rect x="306" y="1608" width="182" height="73" fill="#0e2277"/><text x="397" y="1625.5">data_processing:20:get_db<tspan x="397" dy="15">4.08%</tspan><tspan x="397" dy="15">(0.00%)</tspan><tspan x="397" dy="15">2×</tspan></text>
<rect x="683" y="1608" width="107" height="73" fill="#0e2f7b"/><text x="736.5" y="1625.5">base:310:save<tspan x="736.5" dy="15">6.02%</tspan><tspan x="736.5" dy="15">(0.00%)</tspan><tspan x="736.5" dy="15">1×</tspan></text>
<rect x="944" y="1608" width="129" height="73" fill="#5ac508"/><text x="1008.5" y="1625.5">client:80:accounts<tspan x="1008.5" dy="15">59.26%</tspan><tspan x="1008.5" dy="15">(0.00%)</tspan><tspan x="1008.5" dy="15">1×</tspan></text>
<rect x="1153" y="1608" width="162" height="73" fill="#0d1074"/><text x="1234" y="1625.5">environment:974:render<tspan x="1234" dy="15">0.98%</tspan><tspan x="1234" dy="15">(0.00%)</tspan><tspan x="1234" dy="15">1×</tspan></text>
<rect x="497" y="1691" width="173" height="73" fill="#0e4380"/><text x="583.5" y="1708.5">PaginatedList:45:__iter__<tspan x="583.5" dy="15">11.21%</tspan><tspan x="583.5" dy="15">(0.00%)</tspan><tspan x="583.5" dy="15">18×</tspan></text>
<rect x="100" y="1775" width="135" height="73" fill="#0e5083"/><text x="167.5" y="1792.5">cursors:410:_query<tspan x="167.5" dy="15">13.87%</tspan><tspan x="167.5" dy="15">(0.00%)</tspan><tspan x="167.5" dy="15">2×</tspan></text>
<rect x="250" y="1775" width="272" height="73" fill="#0e2277"/><text x="386" y="1792.5">data_processing:25:get_mysql_connection<tspan x="386" dy="15">4.08%</tspan><tspan x="386" dy="15">(0.00%)</tspan><tspan x="386" dy="15">1×</tspan></text>
<rect x="653" y="1775" width="154" height="73" fill="#0e1a76"/><text x="730" y="1792.5">custom_data:168:save<tspan x="730" dy="15">2.81%</tspan><tspan x="730" dy="15">(0.00%)</tspan><tspan x="730" dy="15">1×</tspan></text>
<rect x="928" y="1775" width="148" height="73" fill="#5ac508"/><text x="1002" y="1792.5">base:125:__getattr__<tspan x="1002" dy="15">59.26%</tspan><tspan x="1002" dy="15">(0.00%)</tspan><tspan x="1002" dy="15">1×</tspan></text>
<rect x="1125" y="1775" width="250" height="73" fill="#0d1074"/><text x="1250" y="1792.5">~:0:&lt;method 'join' of 'unicode' objects&gt;<tspan x="1250" dy="15">0.98%</tspan><tspan x="1250" dy="15">(0.00%)</tspan><tspan x="1250" dy="15">28×</tspan></text>
<rect x="504" y="1860" width="160" height="73" fill="#0e4380"/><text x="584" y="1877.5">PaginatedList:60:_grow<tspan x="584" dy="15">11.21%</tspan><tspan x="584" dy="15">(0.00%)</tspan><tspan x="584" dy="15">1×</tspan></text>
<rect x="89" y="1943" width="157" height="73" fill="#0e5083"/><text x="167.5" y="1960.5">cursors:371:_do_query<tspan x="167.5" dy="15">13.87%</tspan><tspan x="167.5" dy="15">(0.00%)</tspan><tspan x="167.5" dy="15">2×</tspan></text>
<rect x="287" y="1943" width="139" height="73" fill="#0e2277"/><text x="356.5" y="1960.5">__init__:78:Connect<tspan x="356.5" dy="15">4.08%</tspan><tspan x="356.5" dy="15">(0.00%)</tspan><tspan x="356.5" dy="15">1×</tspan></text>
<rect x="774" y="1943" width="107" height="73" fill="#0e2f7b"/><text x="827.5" y="1960.5">base:296:save<tspan x="827.5" dy="15">6.02%</tspan><tspan x="827.5" dy="15">(0.00%)</tspan><tspan x="827.5" dy="15">2×</tspan></text>
<rect x="927" y="1943" width="160" height="73" fill="#68c80a"/><text x="1007" y="1960.5">base:254:_ensure_data<tspan x="1007" dy="15">62.76%</tspan><tspan x="1007" dy="15">(0.00%)</tspan><tspan x="1007" dy="15">4×</tspan></text>
<rect x="1251" y="1943" width="111" height="73" fill="#0d1074"/><text x="1306.5" y="1960.5">overview:5:root<tspan x="1306.5" dy="15">0.97%</tspan><tspan x="1306.5" dy="15">(0.00%)</tspan><tspan x="1306.5" dy="15">6×</tspan></text>
<rect x="91" y="2070" width="154" height="73" fill="#0e5083"/><text x="168" y="2087.5">connections:261:query<tspan x="168" dy="15">13.87%</tspan><tspan x="168" dy="15">(13.87%)</tspan><tspan x="168" dy="15">2×</tspan></text>
<rect x="257" y="2070" width="161" height="73" fill="#0e2277"/><text x="337.5" y="2087.5">connections:73:__init__<tspan x="337.5" dy="15">3.93%</tspan><tspan x="337.5" dy="15">(3.26%)</tspan><tspan x="337.5" dy="15">1×</tspan></text>
<rect x="471" y="2070" width="226" height="73" fill="#0e4380"/><text x="584" y="2087.5">PaginatedList:157:_fetchNextPage<tspan x="584" dy="15">11.20%</tspan><tspan x="584" dy="15">(0.00%)</tspan><tspan x="584" dy="15">1×</tspan></text>
<rect x="721" y="2070" width="213" height="73" fill="#0e2f7b"/><text x="827.5" y="2087.5">data_store:206:update_resource<tspan x="827.5" dy="15">5.96%</tspan><tspan x="827.5" dy="15">(0.00%)</tspan><tspan x="827.5" dy="15">2×</tspan></text>
<rect x="946" y="2070" width="191" height="73" fill="#68c80a"/><text x="1041.5" y="2087.5">data_store:161:get_resource<tspan x="1041.5" dy="15">62.28%</tspan><tspan x="1041.5" dy="15">(0.00%)</tspan><tspan x="1041.5" dy="15">4×</tspan></text>
<rect x="1264" y="2070" width="201" height="73" fill="#0d1074"/><text x="1364.5" y="2087.5">environment:791:get_template<tspan x="1364.5" dy="15">1.49%</tspan><tspan x="1364.5" dy="15">(0.00%)</tspan><tspan x="1364.5" dy="15">3×</tspan></text>
<rect x="240" y="2197" width="190" height="73" fill="#0d1074"/><text x="335" y="2214.5">connections:245:autocommit<tspan x="335" dy="15">0.66%</tspan><tspan x="335" dy="15">(0.66%)</tspan><tspan x="335" dy="15">1×</tspan></text>
<rect x="441" y="2197" width="175" height="73" fill="#0d1074"/><text x="528.5" y="2214.5">GithubObject:236:__init__<tspan x="528.5" dy="15">0.59%</tspan><tspan x="528.5" dy="15">(0.00%)</tspan><tspan x="528.5" dy="15">35×</tspan></text>
<rect x="627" y="2197" width="246" height="73" fill="#0e4380"/><text x="750" y="2214.5">Requester:171:requestJsonAndCheck<tspan x="750" dy="15">10.61%</tspan><tspan x="750" dy="15">(0.00%)</tspan><tspan x="750" dy="15">1×</tspan></text>
<rect x="885" y="2197" width="98" height="73" fill="#0e2f7b"/><text x="934" y="2214.5">http:176:post<tspan x="934" dy="15">5.95%</tspan><tspan x="934" dy="15">(0.00%)</tspan><tspan x="934" dy="15">2×</tspan></text>
<rect x="996" y="2197" width="91" height="73" fill="#68c80a"/><text x="1041.5" y="2214.5">http:173:get<tspan x="1041.5" dy="15">62.26%</tspan><tspan x="1041.5" dy="15">(0.00%)</tspan><tspan x="1041.5" dy="15">3×</tspan></text>
<rect x="1257" y="2197" width="214" height="73" fill="#0d1074"/><text x="1364" y="2214.5">environment:768:_load_template<tspan x="1364" dy="15">1.49%</tspan><tspan x="1364" dy="15">(0.00%)</tspan><tspan x="1364" dy="15">3×</tspan></text>
<rect x="423" y="2324" width="168" height="73" fill="#0d1074"/><text x="507" y="2341.5">GithubObject:75:__init__<tspan x="507" dy="15">0.59%</tspan><tspan x="507" dy="15">(0.00%)</tspan><tspan x="507" dy="15">52×</tspan></text>
<rect x="658" y="2324" width="184" height="73" fill="#0e4380"/><text x="750" y="2341.5">Requester:209:requestJson<tspan x="750" dy="15">10.59%</tspan><tspan x="750" dy="15">(0.00%)</tspan><tspan x="750" dy="15">1×</tspan></text>
<rect x="983" y="2324" width="117" height="73" fill="#98cf06"/><text x="1041.5" y="2341.5">http:141:request<tspan x="1041.5" dy="15">68.20%</tspan><tspan x="1041.5" dy="15">(0.00%)</tspan><tspan x="1041.5" dy="15">6×</tspan></text>
<rect x="1307" y="2324" width="113" height="73" fill="#0d1074"/><text x="1363.5" y="2341.5">loaders:99:load<tspan x="1363.5" dy="15">1.48%</tspan><tspan x="1363.5" dy="15">(0.00%)</tspan><tspan x="1363.5" dy="15">3×</tspan></text>
<rect x="369" y="2450" width="261" height="73" fill="#0d1074"/><text x="499.5" y="2467.5">GithubObject:85:_storeAndUseAttributes<tspan x="499.5" dy="15">0.59%</tspan><tspan x="499.5" dy="15">(0.00%)</tspan><tspan x="499.5" dy="15">52×</tspan></text>
<rect x="642" y="2450" width="216" height="73" fill="#0e4380"/><text x="750" y="2467.5">Requester:231:__requestEncode<tspan x="750" dy="15">10.59%</tspan><tspan x="750" dy="15">(0.00%)</tspan><tspan x="750" dy="15">1×</tspan></text>
<rect x="979" y="2450" width="146" height="73" fill="#98cf06"/><text x="1052" y="2467.5">sessions:411:request<tspan x="1052" dy="15">68.18%</tspan><tspan x="1052" dy="15">(0.00%)</tspan><tspan x="1052" dy="15">6×</tspan></text>
<rect x="1279" y="2450" width="170" height="73" fill="#0d1074"/><text x="1364" y="2467.5">environment:525:compile<tspan x="1364" dy="15">1.47%</tspan><tspan x="1364" dy="15">(0.00%)</tspan><tspan x="1364" dy="15">3×</tspan></text>
<rect x="396" y="2577" width="206" height="73" fill="#0d1074"/><text x="499" y="2594.5">Repository:2355:_useAttributes<tspan x="499" dy="15">0.59%</tspan><tspan x="499" dy="15">(0.04%)</tspan><tspan x="499" dy="15">17×</tspan></text>
<rect x="651" y="2577" width="198" height="73" fill="#0e4380"/><text x="750" y="2594.5">Requester:266:__requestRaw<tspan x="750" dy="15">10.59%</tspan><tspan x="750" dy="15">(0.00%)</tspan><tspan x="750" dy="15">1×</tspan></text>
<rect x="987" y="2577" width="130" height="73" fill="#98cf06"/><text x="1052" y="2594.5">sessions:569:send<tspan x="1052" dy="15">67.65%</tspan><tspan x="1052" dy="15">(0.01%)</tspan><tspan x="1052" dy="15">6×</tspan></text>
<rect x="1281" y="2577" width="165" height="73" fill="#0d1074"/><text x="1363.5" y="2594.5">environment:468:_parse<tspan x="1363.5" dy="15">0.86%</tspan><tspan x="1363.5" dy="15">(0.00%)</tspan><tspan x="1363.5" dy="15">3×</tspan></text>
<rect x="781" y="2703" width="138" height="73" fill="#0e2277"/><text x="850" y="2720.5">httplib:1055:request<tspan x="850" dy="15">4.28%</tspan><tspan x="850" dy="15">(0.00%)</tspan><tspan x="850" dy="15">7×</tspan></text>
<rect x="1099" y="2703" width="131" height="73" fill="#87cc05"/><text x="1164.5" y="2720.5">adapters:375:send<tspan x="1164.5" dy="15">66.35%</tspan><tspan x="1164.5" dy="15">(0.00%)</tspan><tspan x="1164.5" dy="15">6×</tspan></text>
<rect x="1303" y="2703" width="121" height="73" fill="#0d1074"/><text x="1363.5" y="2720.5">parser:895:parse<tspan x="1363.5" dy="15">0.55%</tspan><tspan x="1363.5" dy="15">(0.00%)</tspan><tspan x="1363.5" dy="15">3×</tspan></text>
<rect x="612" y="2788" width="113" height="73" fill="#0e2277"/><text x="668.5" y="2805.5">httplib:579:read<tspan x="668.5" dy="15">4.33%</tspan><tspan x="668.5" dy="15">(0.00%)</tspan><tspan x="668.5" dy="15">2×</tspan></text>
<rect x="983" y="2788" width="137" height="73" fill="#0d1074"/><text x="1051.5" y="2805.5">models:768:content<tspan x="1051.5" dy="15">1.25%</tspan><tspan x="1051.5" dy="15">(0.00%)</tspan><tspan x="1051.5" dy="15">26×</tspan></text>
<rect x="800" y="2871" width="181" height="73" fill="#0e2277"/><text x="890.5" y="2888.5">httplib:1082:_send_request<tspan x="890.5" dy="15">4.28%</tspan><tspan x="890.5" dy="15">(0.01%)</tspan><tspan x="890.5" dy="15">7×</tspan></text>
<rect x="1113" y="2871" width="185" height="73" fill="#87cc05"/><text x="1205.5" y="2888.5">connectionpool:449:urlopen<tspan x="1205.5" dy="15">66.13%</tspan><tspan x="1205.5" dy="15">(0.00%)</tspan><tspan x="1205.5" dy="15">6×</tspan></text>
<rect x="578" y="2955" width="152" height="73" fill="#0e2277"/><text x="654" y="2972.5">httplib:682:_safe_read<tspan x="654" dy="15">4.35%</tspan><tspan x="654" dy="15">(0.01%)</tspan><tspan x="654" dy="15">21×</tspan></text>
<rect x="943" y="2955" width="218" height="73" fill="#0d1074"/><text x="1052" y="2972.5">~:0:&lt;method 'join' of 'str' objects&gt;<tspan x="1052" dy="15">1.28%</tspan><tspan x="1052" dy="15">(0.02%)</tspan><tspan x="1052" dy="15">468×</tspan></text>
<rect x="808" y="3040" width="164" height="73" fill="#0e2277"/><text x="890" y="3057.5">httplib:1040:endheaders<tspan x="890" dy="15">4.21%</tspan><tspan x="890" dy="15">(0.00%)</tspan><tspan x="890" dy="15">7×</tspan></text>
<rect x="1101" y="3040" width="233" height="73" fill="#87cc05"/><text x="1217.5" y="3057.5">connectionpool:326:_make_request<tspan x="1217.5" dy="15">66.01%</tspan><tspan x="1217.5" dy="15">(0.01%)</tspan><tspan x="1217.5" dy="15">6×</tspan></text>
<rect x="545" y="3123" width="117" height="73" fill="#0e2277"/><text x="603.5" y="3140.5">socket:340:read<tspan x="603.5" dy="15">4.34%</tspan><tspan x="603.5" dy="15">(0.03%)</tspan><tspan x="603.5" dy="15">22×</tspan></text>
<rect x="990" y="3123" width="146" height="73" fill="#0d1074"/><text x="1063" y="3140.5">models:699:generate<tspan x="1063" dy="15">1.25%</tspan><tspan x="1063" dy="15">(0.00%)</tspan><tspan x="1063" dy="15">11×</tspan></text>
<rect x="667" y="3208" width="166" height="73" fill="#0e4380"/><text x="750" y="3225.5">httplib:1099:getresponse<tspan x="750" dy="15">11.84%</tspan><tspan x="750" dy="15">(0.00%)</tspan><tspan x="750" dy="15">7×</tspan></text>
<rect x="846" y="3208" width="166" height="73" fill="#0e2277"/><text x="929" y="3225.5">httplib:882:_send_output<tspan x="929" dy="15">4.21%</tspan><tspan x="929" dy="15">(0.00%)</tspan><tspan x="929" dy="15">7×</tspan></text>
<rect x="1112" y="3208" width="229" height="73" fill="#34bf0b"/><text x="1226.5" y="3225.5">connectionpool:827:_validate_conn<tspan x="1226.5" dy="15">56.13%</tspan><tspan x="1226.5" dy="15">(0.00%)</tspan><tspan x="1226.5" dy="15">6×</tspan></text>
<rect x="990" y="3291" width="146" height="73" fill="#0d1074"/><text x="1063" y="3308.5">response:411:stream<tspan x="1063" dy="15">1.24%</tspan><tspan x="1063" dy="15">(0.00%)</tspan><tspan x="1063" dy="15">11×</tspan></text>
<rect x="689" y="3375" width="120" height="73" fill="#0e4380"/><text x="749" y="3392.5">httplib:446:begin<tspan x="749" dy="15">11.83%</tspan><tspan x="749" dy="15">(0.01%)</tspan><tspan x="749" dy="15">7×</tspan></text>
<rect x="870" y="3375" width="115" height="73" fill="#0e2277"/><text x="927.5" y="3392.5">httplib:855:send<tspan x="927.5" dy="15">4.21%</tspan><tspan x="927.5" dy="15">(0.00%)</tspan><tspan x="927.5" dy="15">7×</tspan></text>
<rect x="1146" y="3375" width="161" height="73" fill="#34bf0b"/><text x="1226.5" y="3392.5">connection:279:connect<tspan x="1226.5" dy="15">56.13%</tspan><tspan x="1226.5" dy="15">(0.00%)</tspan><tspan x="1226.5" dy="15">1×</tspan></text>
<rect x="971" y="3460" width="189" height="73" fill="#0d1074"/><text x="1065.5" y="3477.5">response:563:read_chunked<tspan x="1065.5" dy="15">1.24%</tspan><tspan x="1065.5" dy="15">(0.01%)</tspan><tspan x="1065.5" dy="15">10×</tspan></text>
<rect x="713" y="3543" width="152" height="73" fill="#0d1074"/><text x="789" y="3560.5">mimetools:24:__init__<tspan x="789" dy="15">0.76%</tspan><tspan x="789" dy="15">(0.00%)</tspan><tspan x="789" dy="15">7×</tspan></text>
<rect x="988" y="3543" width="141" height="73" fill="#0e2277"/><text x="1058.5" y="3560.5">httplib:1267:connect<tspan x="1058.5" dy="15">4.20%</tspan><tspan x="1058.5" dy="15">(0.00%)</tspan><tspan x="1058.5" dy="15">1×</tspan></text>
<rect x="1141" y="3543" width="172" height="73" fill="#0e1a76"/><text x="1227" y="3560.5">ssl_:277:ssl_wrap_socket<tspan x="1227" dy="15">3.11%</tspan><tspan x="1227" dy="15">(0.00%)</tspan><tspan x="1227" dy="15">1×</tspan></text>
<rect x="809" y="3627" width="240" height="73" fill="#0d1074"/><text x="929" y="3644.5">response:527:_update_chunk_length<tspan x="929" dy="15">1.17%</tspan><tspan x="929" dy="15">(0.00%)</tspan><tspan x="929" dy="15">15×</tspan></text>
<rect x="1304" y="3627" width="183" height="73" fill="#20bc0b"/><text x="1395.5" y="3644.5">connection:124:_new_conn<tspan x="1395.5" dy="15">53.00%</tspan><tspan x="1395.5" dy="15">(0.00%)</tspan><tspan x="1395.5" dy="15">1×</tspan></text>
<rect x="718" y="3711" width="127" height="73" fill="#0d1074"/><text x="781.5" y="3728.5">rfc822:88:__init__<tspan x="781.5" dy="15">0.74%</tspan><tspan x="781.5" dy="15">(0.00%)</tspan><tspan x="781.5" dy="15">7×</tspan></text>
<rect x="990" y="3711" width="142" height="73" fill="#0e2277"/><text x="1061" y="3728.5">ssl:345:wrap_socket<tspan x="1061" dy="15">4.84%</tspan><tspan x="1061" dy="15">(0.00%)</tspan><tspan x="1061" dy="15">2×</tspan></text>
<rect x="1143" y="3711" width="133" height="73" fill="#0e1a76"/><text x="1209.5" y="3728.5">httplib:833:connect<tspan x="1209.5" dy="15">2.36%</tspan><tspan x="1209.5" dy="15">(0.00%)</tspan><tspan x="1209.5" dy="15">1×</tspan></text>
<rect x="615" y="3795" width="163" height="73" fill="#0e4380"/><text x="696.5" y="3812.5">httplib:407:_read_status<tspan x="696.5" dy="15">11.06%</tspan><tspan x="696.5" dy="15">(0.01%)</tspan><tspan x="696.5" dy="15">7×</tspan></text>
<rect x="727" y="3879" width="161" height="73" fill="#0d1074"/><text x="807.5" y="3896.5">httplib:271:readheaders<tspan x="807.5" dy="15">0.74%</tspan><tspan x="807.5" dy="15">(0.05%)</tspan><tspan x="807.5" dy="15">7×</tspan></text>
<rect x="985" y="3879" width="115" height="73" fill="#0e2277"/><text x="1042.5" y="3896.5">ssl:519:__init__<tspan x="1042.5" dy="15">4.84%</tspan><tspan x="1042.5" dy="15">(0.00%)</tspan><tspan x="1042.5" dy="15">2×</tspan></text>
<rect x="1111" y="3879" width="197" height="73" fill="#0e1a76"/><text x="1209.5" y="3896.5">socket:541:create_connection<tspan x="1209.5" dy="15">2.36%</tspan><tspan x="1209.5" dy="15">(0.00%)</tspan><tspan x="1209.5" dy="15">1×</tspan></text>
<rect x="1321" y="3879" width="216" height="73" fill="#20bc0b"/><text x="1429" y="3896.5">connection:51:create_connection<tspan x="1429" dy="15">53.00%</tspan><tspan x="1429" dy="15">(0.00%)</tspan><tspan x="1429" dy="15">1×</tspan></text>
<rect x="734" y="4006" width="137" height="73" fill="#0e4b82"/><text x="802.5" y="4023.5">socket:410:readline<tspan x="802.5" dy="15">12.85%</tspan><tspan x="802.5" dy="15">(0.20%)</tspan><tspan x="802.5" dy="15">123×</tspan></text>
<rect x="965" y="4006" width="155" height="73" fill="#0e2277"/><text x="1042.5" y="4023.5">ssl:823:do_handshake<tspan x="1042.5" dy="15">4.83%</tspan><tspan x="1042.5" dy="15">(0.00%)</tspan><tspan x="1042.5" dy="15">2×</tspan></text>
<rect x="1141" y="4006" width="175" height="73" fill="#20bc0b"/><text x="1228.5" y="4023.5">~:0:&lt;_socket.getaddrinfo&gt;<tspan x="1228.5" dy="15">52.93%</tspan><tspan x="1228.5" dy="15">(52.94%)</tspan><tspan x="1228.5" dy="15">2×</tspan></text>
<rect x="1345" y="4006" width="120" height="73" fill="#0e1a76"/><text x="1405" y="4023.5">socket:227:meth<tspan x="1405" dy="15">2.43%</tspan><tspan x="1405" dy="15">(0.00%)</tspan><tspan x="1405" dy="15">26×</tspan></text>
<rect x="858" y="4132" width="370" height="73" fill="#0e2277"/><text x="1043" y="4149.5">~:0:&lt;method 'do_handshake' of '_ssl._SSLSocket' objects&gt;<tspan x="1043" dy="15">4.80%</tspan><tspan x="1043" dy="15">(4.80%)</tspan><tspan x="1043" dy="15">2×</tspan></text>
<rect x="1247" y="4132" width="316" height="73" fill="#0e1a76"/><text x="1405" y="4149.5">~:0:&lt;method 'connect' of '_socket.socket' objects&gt;<tspan x="1405" dy="15">2.43%</tspan><tspan x="1405" dy="15">(2.43%)</tspan><tspan x="1405" dy="15">2×</tspan></text>
<rect x="655" y="4132" width="93" height="73" fill="#0e5f86"/><text x="701.5" y="4149.5">ssl:749:recv<tspan x="701.5" dy="15">16.79%</tspan><tspan x="701.5" dy="15">(0.12%)</tspan><tspan x="701.5" dy="15">1134×</tspan></text>
<rect x="655" y="4259" width="94" height="73" fill="#0e5f86"/><text x="702" y="4276.5">ssl:632:read<tspan x="702" dy="15">16.63%</tspan><tspan x="702" dy="15">(0.12%)</tspan><tspan x="702" dy="15">1134×</tspan></text>
<rect x="547" y="4386" width="310" height="73" fill="#0e5f86"/><text x="702" y="4403.5">~:0:&lt;method 'read' of '_ssl._SSLSocket' objects&gt;<tspan x="702" dy="15">16.46%</tspan><tspan x="702" dy="15">(16.46%)</tspan><tspan x="702" dy="15">1134×</tspan></text>
</g>
</svg>
</body></html>
